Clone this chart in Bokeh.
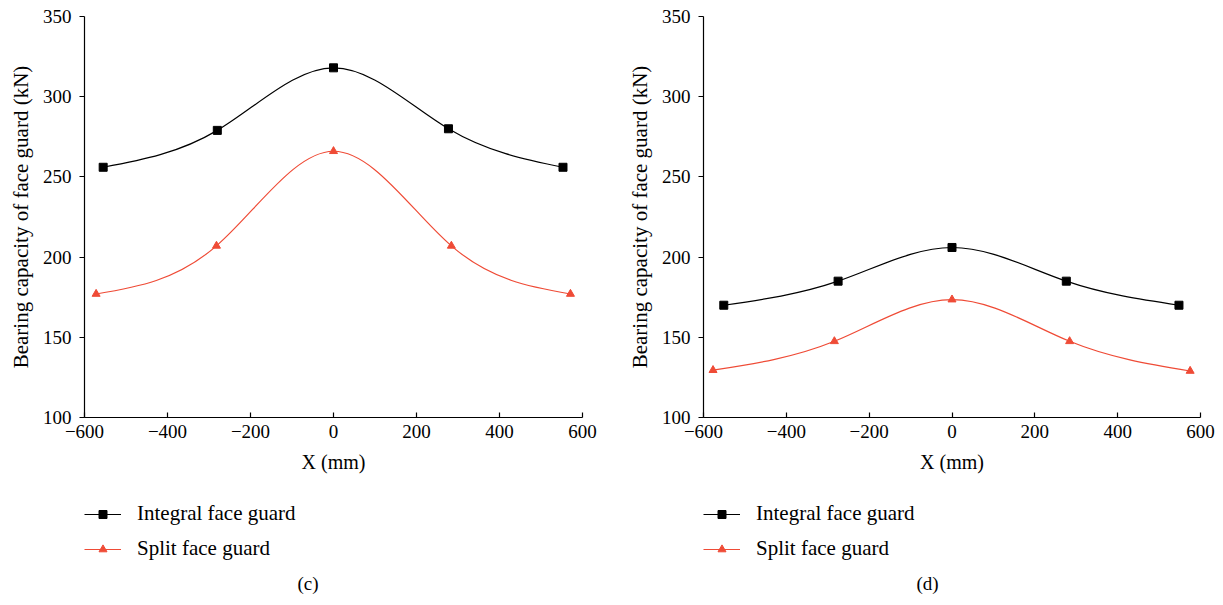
import numpy as np
from bokeh.plotting import figure
from bokeh.layouts import row, column
from bokeh.models import Legend, LegendItem, Title, FixedTicker, Range1d
from bokeh.embed import file_html
from bokeh.resources import INLINE

# ---- data ----
x_ticks = [-600, -400, -200, 0, 200, 400, 600]
y_ticks = [100, 150, 200, 250, 300, 350]

int_x_c = [-555, -280, 0, 277, 553]
int_y_c = [256, 279, 318, 280, 256]
split_x_c = [-572, -282, 0, 284, 571]
split_y_c = [177, 207, 266, 207, 177]

int_x_d = [-551, -275, 0, 276, 548]
int_y_d = [170, 185, 206, 185, 170]
split_x_d = [-577, -284, 0, 284, 575]
split_y_d = [129.5, 147.5, 173.5, 147.5, 129]

series_names = ["Integral face guard", "Split face guard"]
captions = ["(c)", "(d)"]

FONT = "Liberation Serif"
FS = "19px"
BLACK = "#000000"
RED = "#ef4b36"


def spline_bezier(x, y):
    """Natural cubic spline through the points, expressed as Bezier segments."""
    x = np.asarray(x, float); y = np.asarray(y, float)
    n = len(x)
    h = np.diff(x)
    A = np.zeros((n, n)); b = np.zeros(n)
    A[0, 0] = 1; A[-1, -1] = 1
    for i in range(1, n - 1):
        A[i, i - 1] = h[i - 1]
        A[i, i] = 2 * (h[i - 1] + h[i])
        A[i, i + 1] = h[i]
        b[i] = 6 * ((y[i + 1] - y[i]) / h[i] - (y[i] - y[i - 1]) / h[i - 1])
    M = np.linalg.solve(A, b)
    m = np.zeros(n)
    for i in range(n - 1):
        m[i] = (y[i + 1] - y[i]) / h[i] - h[i] * (2 * M[i] + M[i + 1]) / 6
    m[-1] = (y[-1] - y[-2]) / h[-1] + h[-1] * (M[-2] + 2 * M[-1]) / 6
    return dict(x0=x[:-1], y0=y[:-1], x1=x[1:], y1=y[1:],
                cx0=x[:-1] + h / 3, cy0=y[:-1] + m[:-1] * h / 3,
                cx1=x[1:] - h / 3, cy1=y[1:] - m[1:] * h / 3)


def fmt(v):
    return str(v).replace("-", "\u2212")


def draw_series(p, ix, iy, sx, sy):
    l1 = p.bezier(source=spline_bezier(ix, iy), x0="x0", y0="y0", x1="x1", y1="y1",
                  cx0="cx0", cy0="cy0", cx1="cx1", cy1="cy1",
                  line_color=BLACK, line_width=1.2)
    m1 = p.scatter(ix, iy, marker="square", size=8, fill_color=BLACK, line_color=BLACK)
    l2 = p.bezier(source=spline_bezier(sx, sy), x0="x0", y0="y0", x1="x1", y1="y1",
                  cx0="cx0", cy0="cy0", cx1="cx1", cy1="cy1",
                  line_color=RED, line_width=1.2)
    m2 = p.scatter(sx, sy, marker="triangle", size=8, fill_color=RED, line_color=RED)
    return l1, m1, l2, m2


def make_panel(ix, iy, sx, sy, caption, width, left, right):
    p = figure(width=width, height=487, output_backend="svg", toolbar_location=None,
               x_range=Range1d(-600, 600), y_range=Range1d(100, 350),
               min_border_left=left, min_border_right=right,
               min_border_top=16, min_border_bottom=70)
    p.outline_line_color = None
    p.grid.visible = False

    for ax in (p.xaxis[0], p.yaxis[0]):
        ax.axis_line_color = BLACK
        ax.axis_line_width = 1.2
        ax.major_tick_line_color = BLACK
        ax.major_tick_line_width = 1.2
        ax.minor_tick_line_color = None
        ax.major_label_text_font = FONT
        ax.major_label_text_font_size = FS
        ax.major_label_text_color = BLACK
        ax.axis_label_text_font = FONT
        ax.axis_label_text_font_style = "normal"
        ax.axis_label_text_color = BLACK

    p.xaxis.ticker = FixedTicker(ticks=x_ticks)
    p.xaxis.major_label_overrides = {t: fmt(t) for t in x_ticks}
    p.xaxis.major_tick_in = 5
    p.xaxis.major_tick_out = 0
    p.xaxis.major_label_standoff = 7
    p.xaxis.axis_label = "X (mm)"
    p.xaxis.axis_label_text_font_size = "20px"
    p.xaxis.axis_label_standoff = 10

    p.yaxis.ticker = FixedTicker(ticks=y_ticks)
    p.yaxis.major_label_overrides = {t: fmt(t) for t in y_ticks}
    p.yaxis.major_tick_in = 0
    p.yaxis.major_tick_out = 5
    p.yaxis.major_label_standoff = 8
    p.yaxis.axis_label = "Bearing capacity of face guard (kN)"
    p.yaxis.axis_label_text_font_size = "21px"
    p.yaxis.axis_label_standoff = 7

    draw_series(p, ix, iy, sx, sy)

    # legend + caption strip below (same horizontal frame as the plot)
    q = figure(width=width, height=118, output_backend="svg", toolbar_location=None,
               x_range=Range1d(-600, 600), y_range=Range1d(0, 1),
               x_axis_type=None, y_axis_type=None,
               min_border_left=left, min_border_right=right,
               min_border_top=0, min_border_bottom=40)
    q.outline_line_color = None
    l1, m1, l2, m2 = draw_series(q, ix, iy, sx, sy)  # out of view: legend proxies
    legend = Legend(items=[LegendItem(label=series_names[0], renderers=[l1, m1]),
                           LegendItem(label=series_names[1], renderers=[l2, m2])],
                    location=(0, 4), orientation="vertical",
                    glyph_width=37, glyph_height=20, label_height=20,
                    label_standoff=16, spacing=10, padding=0, margin=0,
                    border_line_alpha=0, background_fill_alpha=0,
                    label_text_font=FONT, label_text_font_size="21px",
                    label_text_color=BLACK)
    q.add_layout(legend, "center")
    q.add_layout(Title(text=caption, align="left", offset=213, standoff=10,
                       text_font=FONT, text_font_size=FS,
                       text_font_style="normal", text_color=BLACK), "below")
    return column(p, q)


pc = make_panel(int_x_c, int_y_c, split_x_c, split_y_c, captions[0], 611, 84, 29)
pd = make_panel(int_x_d, int_y_d, split_x_d, split_y_d, captions[1], 612, 92, 23)

layout = row(pc, pd)
open("out.html", "w").write(file_html(layout, INLINE))
